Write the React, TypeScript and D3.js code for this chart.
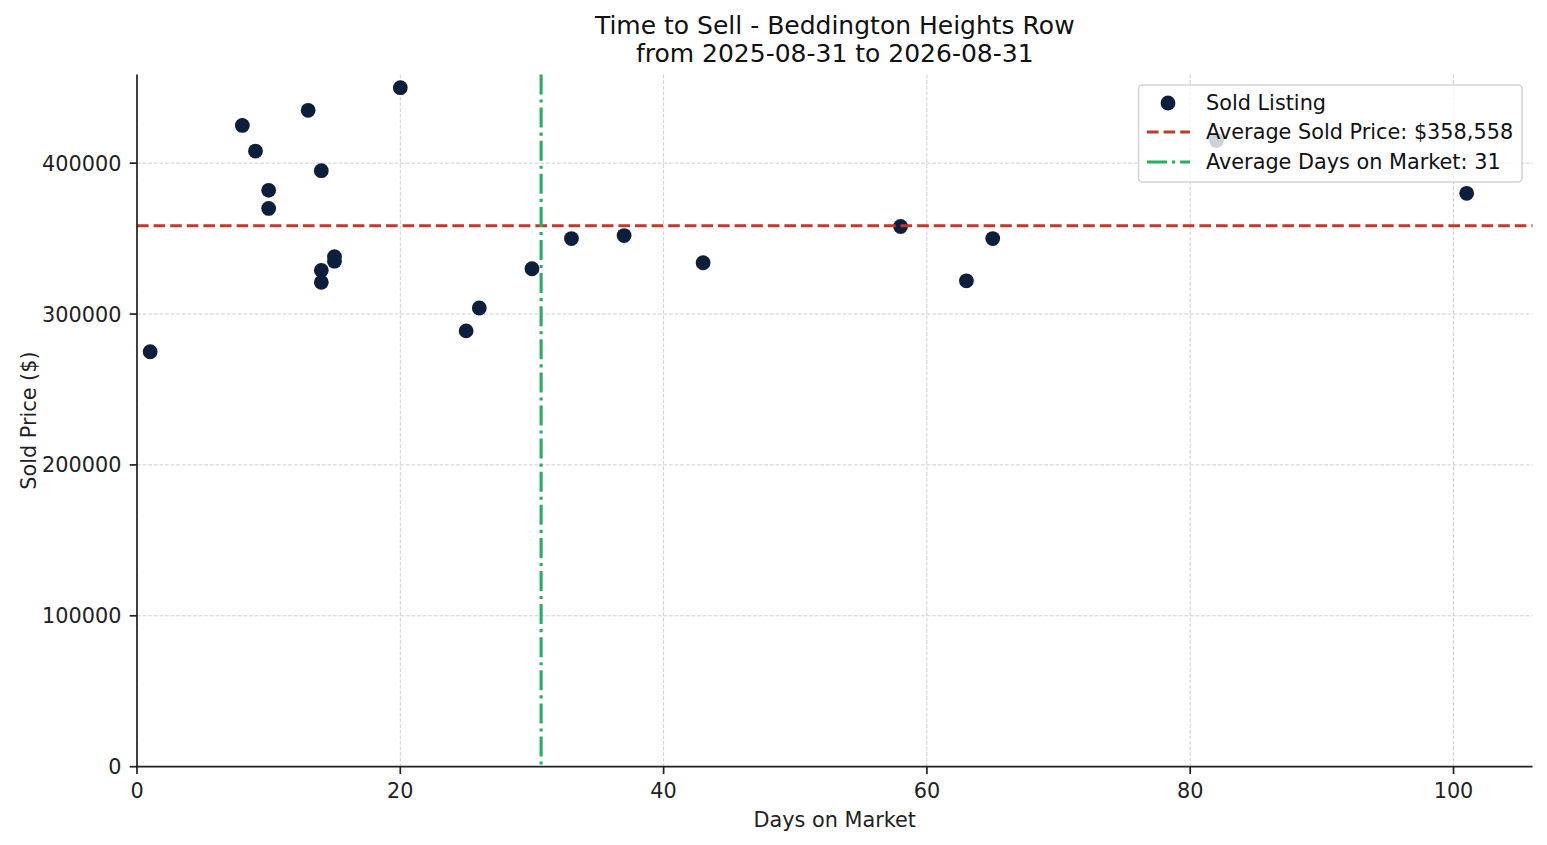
import React from "react";
import * as d3 from "d3";

const days = [1, 8, 9, 10, 10, 13, 14, 14, 14, 15, 15, 20, 25, 26, 30, 33, 37, 43, 58, 63, 65, 82, 101];
const prices = [275000, 425000, 408000, 382000, 370000, 435000, 395000, 329000, 321000, 338000, 335000, 450000, 288830, 304000, 330000, 350000, 352000, 334000, 358000, 322000, 350000, 415000, 380000];
const xTicks = [0, 20, 40, 60, 80, 100];
const yTicks = [0, 100000, 200000, 300000, 400000];
const titleLines = ["Time to Sell - Beddington Heights Row", "from 2025-08-31 to 2026-08-31"];

const W = 1547, H = 845;
const M = { left: 137, right: 1532.5, top: 74.5, bottom: 766.7 };
const FONT = "'DejaVu Sans', sans-serif";
const DOT = "#0b1f3d";
const RED = "#c0392b";
const GREEN = "#27ae60";
const FS = 20.8;

export default function App() {
  const x = d3.scaleLinear().domain([0, 106]).range([M.left, M.right]);
  const y = d3.scaleLinear().domain([0, 458750]).range([M.bottom, M.top]);
  const avgPrice = d3.mean(prices) as number;
  const avgDays = d3.mean(days) as number;
  const priceLabel = "Average Sold Price: $" + d3.format(",.0f")(avgPrice);
  const daysLabel = "Average Days on Market: " + Math.round(avgDays);

  const lx = 1138.5, ly = 85, lw = 383.5, lh = 97;
  const rows = [103, 132, 162];
  return (
    <svg width={W} height={H} style={{ position: "absolute", left: 0, top: 0 }} fontFamily={FONT}>
      <rect width={W} height={H} fill="#fff" />
      {/* grid */}
      {xTicks.map((t) => (
        <line key={"gx" + t} x1={x(t)} x2={x(t)} y1={M.top} y2={M.bottom} stroke="#cfcfcf" strokeWidth={1} strokeDasharray="3.9,1.7" />
      ))}
      {yTicks.map((t) => (
        <line key={"gy" + t} x1={M.left} x2={M.right} y1={y(t)} y2={y(t)} stroke="#cfcfcf" strokeWidth={1} strokeDasharray="3.9,1.7" />
      ))}
      {/* points */}
      {days.map((d, i) => (
        <circle key={"p" + i} cx={x(d)} cy={y(prices[i])} r={7.4} fill={DOT} />
      ))}
      {/* average lines */}
      <line x1={M.left} x2={M.right} y1={y(avgPrice)} y2={y(avgPrice)} stroke={RED} strokeWidth={3.1} strokeDasharray="11.6,5" />
      <line x1={x(avgDays)} x2={x(avgDays)} y1={M.top} y2={M.bottom} stroke={GREEN} strokeWidth={3.1} strokeDasharray="20,5,3.1,5" />
      {/* spines */}
      <line x1={M.left} x2={M.left} y1={M.top} y2={M.bottom + 0.8} stroke="#222" strokeWidth={1.7} />
      <line x1={M.left - 0.8} x2={M.right} y1={M.bottom} y2={M.bottom} stroke="#222" strokeWidth={1.7} />
      {/* x ticks */}
      {xTicks.map((t) => (
        <g key={"xt" + t}>
          <line x1={x(t)} x2={x(t)} y1={M.bottom} y2={M.bottom + 7.3} stroke="#222" strokeWidth={1.7} />
          <text x={x(t)} y={798} textAnchor="middle" fontSize={FS} fill="#222">{t}</text>
        </g>
      ))}
      {yTicks.map((t) => (
        <g key={"yt" + t}>
          <line x1={M.left - 7.3} x2={M.left} y1={y(t)} y2={y(t)} stroke="#222" strokeWidth={1.7} />
          <text x={M.left - 15.5} y={y(t)} dy="0.36em" textAnchor="end" fontSize={FS} fill="#222">{t}</text>
        </g>
      ))}
      {/* axis labels */}
      <text x={(M.left + M.right) / 2} y={826.5} textAnchor="middle" fontSize={FS} fill="#222">Days on Market</text>
      <text transform={`translate(36, ${(M.top + M.bottom) / 2}) rotate(-90)`} textAnchor="middle" fontSize={FS} fill="#222">Sold Price ($)</text>
      {/* title */}
      {titleLines.map((s, i) => (
        <text key={"t" + i} x={(M.left + M.right) / 2} y={33.5 + i * 28.5} textAnchor="middle" fontSize={25} fill="#111">{s}</text>
      ))}
      {/* legend */}
      <g>
        <rect x={lx} y={ly} width={lw} height={lh} rx={4} fill="#fff" fillOpacity={0.8} stroke="#d4d4d4" strokeWidth={1.6} />
        <circle cx={1168} cy={rows[0]} r={7.4} fill={DOT} />
        <text x={1206} y={rows[0]} dy="0.36em" fontSize={FS} fill="#111">Sold Listing</text>
        <line x1={1147} x2={1190} y1={rows[1]} y2={rows[1]} stroke={RED} strokeWidth={3.1} strokeDasharray="11.6,5" />
        <text x={1206} y={rows[1]} dy="0.36em" fontSize={FS} fill="#111">{priceLabel}</text>
        <line x1={1147} x2={1190} y1={rows[2]} y2={rows[2]} stroke={GREEN} strokeWidth={3.1} strokeDasharray="20,5,3.1,5" />
        <text x={1206} y={rows[2]} dy="0.36em" fontSize={FS} fill="#111">{daysLabel}</text>
      </g>
    </svg>
  );
}
